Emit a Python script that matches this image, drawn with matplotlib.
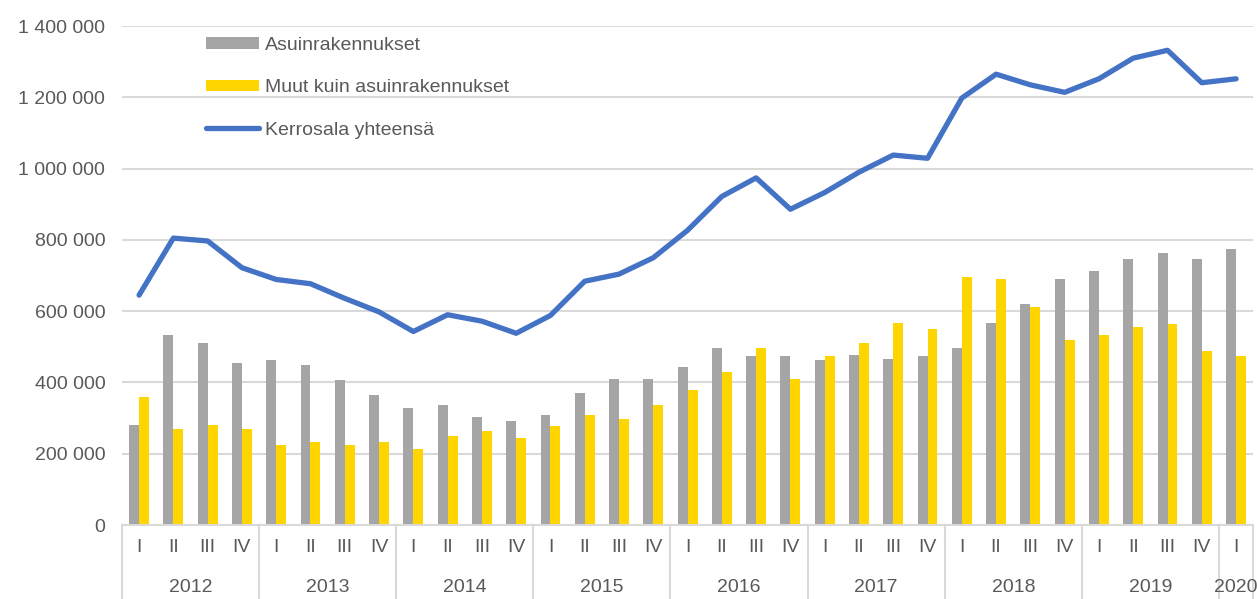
import matplotlib.pyplot as plt
import matplotlib.transforms as mtransforms
from matplotlib.ticker import FuncFormatter
import numpy as np

years = ["2012", "2013", "2014", "2015", "2016", "2017", "2018", "2019", "2020"]
quarters = ["I", "II", "III", "IV"] * 8 + ["I"]

asuin = [282, 533, 512, 456, 462, 450, 407, 366, 327, 337, 304, 293,
         308, 371, 411, 411, 444, 496, 473, 473, 462, 478, 467, 473,
         496, 567, 619, 690, 713, 746, 763, 746, 775]
muut = [359, 269, 282, 269, 224, 232, 224, 232, 213, 249, 264, 243,
        278, 308, 298, 337, 378, 428, 496, 411, 473, 512, 567, 551,
        695, 690, 612, 518, 533, 556, 563, 488, 473]
yhteensa = [645, 805, 797, 722, 689, 677, 636, 598, 543, 590, 572, 538,
            588, 684, 704, 750, 827, 922, 974, 886, 933, 990, 1038, 1029,
            1198, 1265, 1235, 1214, 1252, 1310, 1332, 1241, 1252]

asuin = np.array(asuin) * 1000
muut = np.array(muut) * 1000
yhteensa = np.array(yhteensa) * 1000

plt.rcParams["font.family"] = ["Liberation Sans", "DejaVu Sans"]
TXT = "#595959"
GRID = "#D9D9D9"
FS = 14

fig = plt.figure(figsize=(12.57, 5.99), dpi=100)
ax = fig.add_axes([0.097, 0.1235, 0.9, 0.833])

x = np.arange(len(quarters))
w = 0.29
b1 = ax.bar(x - w / 2, asuin, w, color="#A5A5A5", label="Asuinrakennukset", zorder=2)
b2 = ax.bar(x + w / 2, muut, w, color="#FFD500", label="Muut kuin asuinrakennukset", zorder=2)
ln, = ax.plot(x, yhteensa, color="#4472C4", lw=3.8, solid_capstyle="round",
              label="Kerrosala yhteensä", zorder=3)

ax.set_xlim(-0.5, len(quarters) - 0.5)
ax.set_ylim(0, 1400000)
ax.set_yticks(np.arange(0, 1400001, 200000))
ax.yaxis.set_major_formatter(FuncFormatter(lambda v, p: f"{int(v):,}".replace(",", " ")))
ax.grid(axis="y", color=GRID, lw=1.5, zorder=0)
ax.set_axisbelow(True)
for s in ["left", "right", "top"]:
    ax.spines[s].set_visible(False)
ax.spines["bottom"].set_color(GRID)
ax.spines["bottom"].set_linewidth(1.5)
ax.tick_params(axis="y", length=0, pad=12, labelsize=FS, labelcolor=TXT)
ax.set_xticks(x)
ax.set_xticklabels(quarters)
ax.tick_params(axis="x", length=0, pad=10, labelsize=FS, labelcolor=TXT)

# year groups under the quarter labels
trans = mtransforms.blended_transform_factory(ax.transData, ax.transAxes)
bounds = sorted(set(list(range(-1, len(quarters), 4)) + [len(quarters) - 1]))
for b in bounds:
    ax.plot([b + 0.5, b + 0.5], [0, -0.15], color=GRID, lw=1.5,
            transform=trans, clip_on=False)
for i, yr in enumerate(years):
    start = i * 4
    end = min(start + 3, len(quarters) - 1)
    ax.text((start + end) / 2, -0.125, yr, transform=trans, ha="center",
            va="center", fontsize=FS, color=TXT)

ax.legend([b1, b2, ln], [b1.get_label(), b2.get_label(), ln.get_label()],
          loc="upper left", bbox_to_anchor=(0.059, 1.013), frameon=False,
          fontsize=FS, labelcolor=TXT, handlelength=2.7, handletextpad=0.3,
          labelspacing=1.3, handleheight=0.55)

fig.savefig("out.png", dpi=100)
